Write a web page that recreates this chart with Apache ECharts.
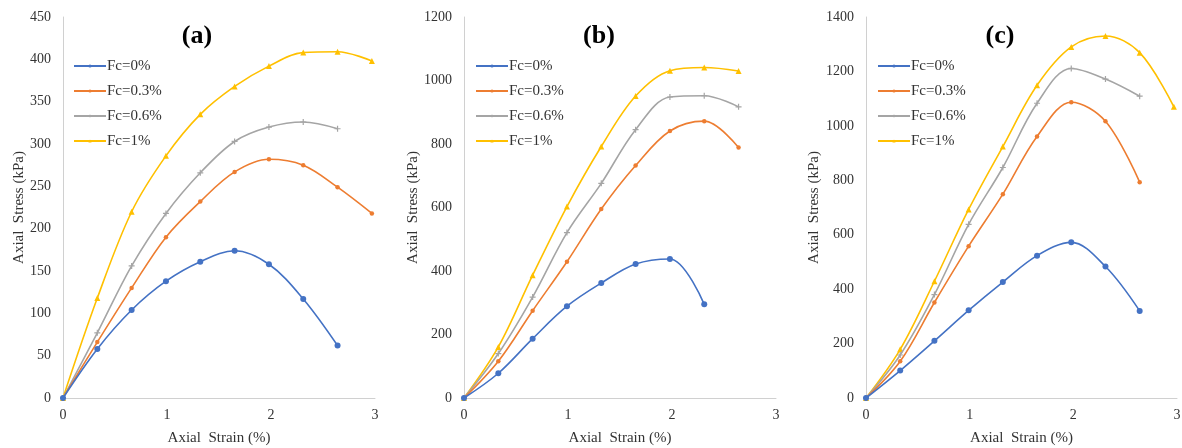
<!DOCTYPE html>
<html>
<head>
<meta charset="utf-8">
<script src="https://cdn.jsdelivr.net/npm/echarts@6/dist/echarts.min.js"></script>
<style>
  html, body { margin: 0; padding: 0; background: #fff; }
  #chart { width: 1182px; height: 448px; }
</style>
</head>
<body>
<div id="chart"></div>
<script>
// Axial strain (%) sample positions
const strain = [0, 0.33, 0.66, 0.99, 1.32, 1.65, 1.98, 2.31, 2.64, 2.97];
const seriesNames = ['Fc=0%', 'Fc=0.3%', 'Fc=0.6%', 'Fc=1%'];
const panelLabels = ['(a)', '(b)', '(c)'];
const xTicks = [0, 1, 2, 3];

// Panel (a) axial stress (kPa)
const a_fc0 = [0, 58, 104, 138, 161, 174, 158, 117, 62];
const a_fc03 = [0, 66, 130, 190, 232, 267, 282, 275, 249, 218];
const a_fc06 = [0, 77, 156, 218, 266, 303, 320, 326, 318];
const a_fc1 = [0, 118, 220, 286, 335, 368, 392, 408, 409, 398];

// Panel (b) axial stress (kPa)
const b_fc0 = [0, 78, 187, 289, 362, 422, 438, 295];
const b_fc03 = [0, 116, 275, 429, 595, 732, 841, 872, 789];
const b_fc06 = [0, 140, 318, 521, 676, 845, 948, 952, 917];
const b_fc1 = [0, 161, 387, 603, 792, 951, 1031, 1041, 1030];

// Panel (c) axial stress (kPa)
const c_fc0 = [0, 101, 210, 322, 426, 523, 572, 483, 320];
const c_fc03 = [0, 135, 351, 558, 749, 961, 1087, 1017, 793];
const c_fc06 = [0, 158, 380, 638, 847, 1083, 1211, 1172, 1109];
const c_fc1 = [0, 179, 429, 693, 924, 1149, 1290, 1330, 1269, 1070];

// Y axis ranges
const yMax = [450, 1200, 1400];
const yInterval = [50, 200, 200];

const panels = [
  [a_fc0, a_fc03, a_fc06, a_fc1],
  [b_fc0, b_fc03, b_fc06, b_fc1],
  [c_fc0, c_fc03, c_fc06, c_fc1]
];

const colors = ['#4472C4', '#ED7D31', '#A5A5A5', '#FFC000'];
const plusPath = 'path://M4,0H6V4H10V6H6V10H4V6H0V4H4Z';
const symbols = ['circle', 'circle', plusPath, 'triangle'];
const symbolSizes = [6, 4.5, 6, 6];

const FONT = '"Liberation Serif", "Times New Roman", serif';
const TEXT = '#333333';
const AXIS = '#d0d0d0';

const gridLeft = [63, 464, 866];
const gridWidth = [312, 312, 311];
const nameGapY = [36, 41, 44];
const labelX = [197, 599, 1000];
const legendLeft = [68, 470, 872];

const grids = [], xAxes = [], yAxes = [], series = [], legends = [], graphics = [];
for (let p = 0; p < 3; p++) {
  grids.push({ left: gridLeft[p], width: gridWidth[p], top: 17, height: 381,
    containLabel: false, outerBoundsMode: 'none' });
  xAxes.push({
    type: 'value', gridIndex: p, min: 0, max: 3, interval: 1,
    name: 'Axial  Strain (%)', nameLocation: 'middle', nameGap: 33,
    nameTextStyle: { fontFamily: FONT, fontSize: 15, color: TEXT },
    axisLine: { show: true, lineStyle: { color: AXIS, width: 1 } },
    axisTick: { show: false },
    splitLine: { show: false },
    axisLabel: { fontFamily: FONT, fontSize: 14, color: TEXT, margin: 10,
      formatter: v => xTicks.includes(v) ? String(v) : '' }
  });
  yAxes.push({
    type: 'value', gridIndex: p, min: 0, max: yMax[p], interval: yInterval[p],
    name: 'Axial  Stress (kPa)', nameLocation: 'middle', nameGap: nameGapY[p],
    nameTextStyle: { fontFamily: FONT, fontSize: 15, color: TEXT },
    axisLine: { show: true, lineStyle: { color: AXIS, width: 1 } },
    axisTick: { show: false },
    splitLine: { show: false },
    axisLabel: { fontFamily: FONT, fontSize: 14, color: TEXT, margin: 12,
      formatter: v => String(v) }
  });
  for (let s = 0; s < 4; s++) {
    const vals = panels[p][s];
    series.push({
      name: seriesNames[s], type: 'line', xAxisIndex: p, yAxisIndex: p,
      data: vals.map((v, i) => [strain[i], v]),
      smooth: 0.35,
      symbol: symbols[s], symbolSize: symbolSizes[s], showSymbol: true,
      itemStyle: { color: colors[s] },
      lineStyle: { color: colors[s], width: 1.6 },
      z: 10 - s
    });
  }
  legends.push({
    orient: 'vertical', left: legendLeft[p], top: 53.5,
    itemWidth: 32, itemHeight: 4, itemGap: 10,
    selectedMode: false,
    data: seriesNames,
    textStyle: { fontFamily: FONT, fontSize: 15, color: TEXT, lineHeight: 15,
      padding: [0, 0, 0, -4] }
  });
  graphics.push({
    type: 'text', x: labelX[p], y: 36,
    style: { text: panelLabels[p], font: 'bold 26px ' + FONT, fill: '#000',
      textAlign: 'center', textVerticalAlign: 'middle' }
  });
}

const chart = echarts.init(document.getElementById('chart'), null, { renderer: 'canvas' });
chart.setOption({
  animation: false,
  backgroundColor: '#fff',
  grid: grids, xAxis: xAxes, yAxis: yAxes, series: series,
  legend: legends, graphic: graphics
});
</script>
</body>
</html>
